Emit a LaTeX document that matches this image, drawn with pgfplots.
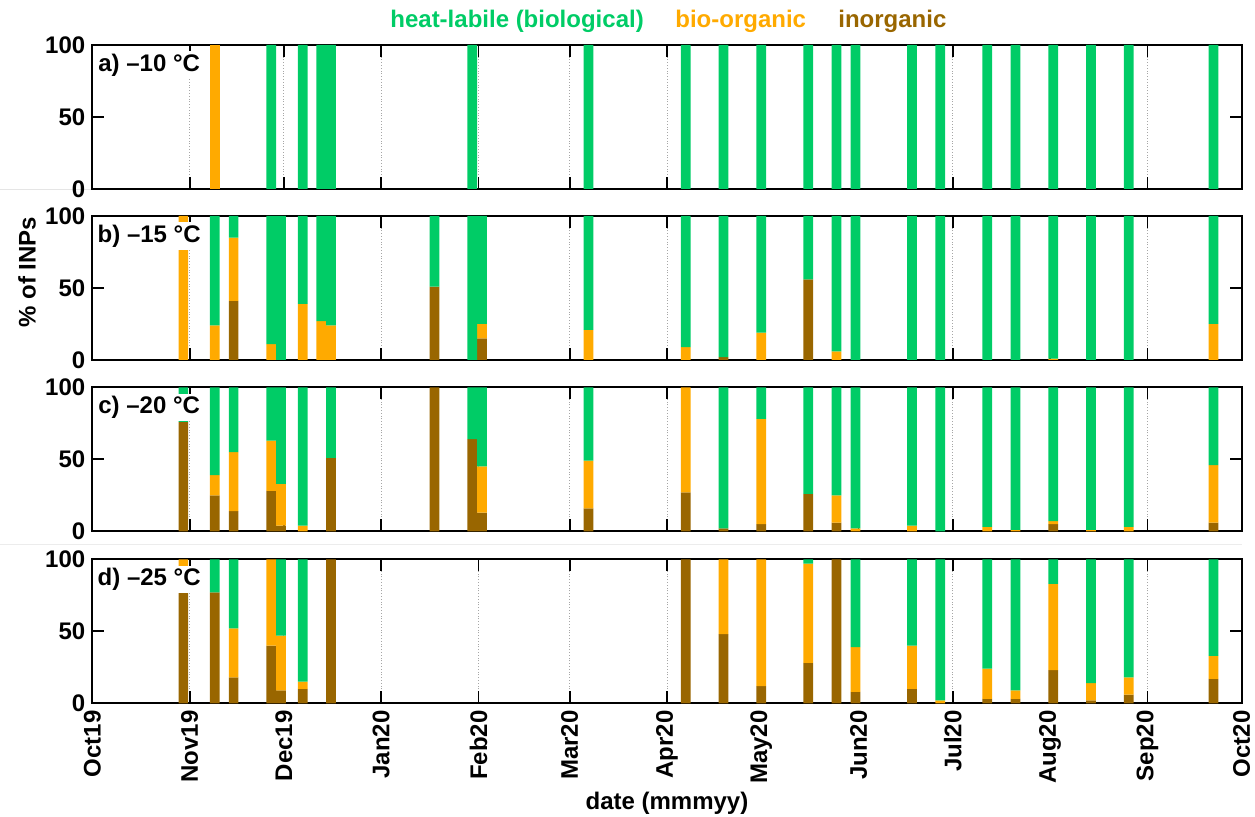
\documentclass[border=0pt]{standalone}
\usepackage{fontspec}
\setmainfont{Liberation Sans}
\usepackage{pgfplots}
\pgfplotsset{compat=1.18}
\usepackage{pgfplotstable}
\definecolor{cgreen}{RGB}{0,204,102}
\definecolor{corange}{RGB}{255,170,0}
\definecolor{cbrown}{RGB}{153,102,0}

% day numbers counted from 1 Oct 2019
\pgfplotstableread{
x inorg bio heat
39 0 100 0
57 0 0 100
67 0 0 100
72.9 0 0 100
76 0 0 100
121 0 0 100
158 0 0 100
189 0 0 100
201 0 0 100
213 0 0 100
228 0 0 100
237 0 0 100
243 0 0 100
261 0 0 100
270 0 0 100
285 0 0 100
294 0 0 100
306 0 0 100
318 0 0 100
330 0 0 100
357 0 0 100
}\tA

\pgfplotstableread{
x inorg bio heat
29 0 100 0
39 0 24 76
45 41 44 15
57 0 11 89
60.1 0 0 100
67 0 39 61
72.9 0 27 73
76 0 24 76
109 51 0 49
121 0 0 100
124.1 15 10 75
158 0 21 79
189 0 9 91
201 2 0 98
213 0 19 81
228 56 0 44
237 0 6 94
243 0 0 100
261 0 0 100
270 0 0 100
285 0 0 100
294 0 0 100
306 0 1 99
318 0 0 100
330 0 0 100
357 0 25 75
}\tB

\pgfplotstableread{
x inorg bio heat
29 76 0 24
39 25 14 61
45 14 41 45
57 28 35 37
60.1 4 29 67
67 0 4 96
76 51 0 49
109 100 0 0
121 64 0 36
124.1 13 32 55
158 16 33 51
189 27 73 0
201 2 0 98
213 5 73 22
228 26 0 74
237 6 19 75
243 0 2 98
261 0 4 96
270 0 0 100
285 0 3 97
294 0 1 99
306 5 2 93
318 0 1 99
330 0 3 97
357 6 40 54
}\tC

\pgfplotstableread{
x inorg bio heat
29 77 23 0
39 77 0 23
45 18 34 48
57 40 60 0
60.1 9 38 53
67 10 5 85
76 100 0 0
189 100 0 0
201 48 52 0
213 12 88 0
228 28 69 3
237 100 0 0
243 8 31 61
261 10 30 60
270 0 2 98
285 3 21 76
294 3 6 91
306 23 60 17
318 2 12 86
330 6 12 82
357 17 16 67
}\tD

\newcommand{\lbl}{\fontsize{12}{14}\selectfont\bfseries}

\tikzset{
  pnlbl/.style={anchor=north west, fill=white, inner sep=0pt,
    minimum width=55.5pt, minimum height=13.8pt, font=\lbl,
    xshift=0.5pt, yshift=-3pt},
}

\pgfplotsset{
  layers/mylayers/.define layer set={axis background,axis grid,axis ticks,pre main,main,axis lines,axis tick labels,axis descriptions,axis foreground}{},
  panel/.style={
    set layers=mylayers,
    anchor=north west,
    scale only axis, width=574.7pt, height=72pt,
    xmin=0, xmax=366, ymin=0, ymax=100,
    enlargelimits=false,
    xtick={0,31,61,92,123,152,183,213,244,274,305,336,366},
    ytick={0,50,100},
    xmajorgrids,
    major grid style={densely dotted, gray!70, line width=0.5pt},
    major tick length=6pt,
    tick style={black, line width=0.9pt},
    axis line style={black, line width=0.9pt},
    tick align=inside,
    yticklabel pos=left,
    xticklabels={},
    ticklabel style={font=\lbl},
    /pgf/number format/assume math mode=true,
    ybar stacked, bar width=3.1,
    reverse stacked plots=false,
  },
}

\newcommand{\bars}[1]{%
  \addplot[fill=cbrown, draw=none] table[x=x, y=inorg] {#1};
  \addplot[fill=corange, draw=none] table[x=x, y=bio] {#1};
  \addplot[fill=cgreen, draw=none] table[x=x, y=heat] {#1};
}

\begin{document}
\begin{tikzpicture}
\draw[gray!20, line width=0.5pt] (0pt,-95pt) -- (621pt,-95pt);
\draw[gray!15, line width=0.5pt] (0pt,-272.5pt) -- (621pt,-272.5pt);

\begin{axis}[panel, at={(46.15pt,-22.5pt)}]
\bars{\tA}
\node[pnlbl] at (rel axis cs:0,1) {a) –10 °C};
\end{axis}

\begin{axis}[panel, at={(46.15pt,-108pt)}]
\bars{\tB}
\node[pnlbl] at (rel axis cs:0,1) {b) –15 °C};
\end{axis}

\begin{axis}[panel, at={(46.15pt,-193.65pt)}]
\bars{\tC}
\node[pnlbl] at (rel axis cs:0,1) {c) –20 °C};
\end{axis}

\begin{axis}[panel, at={(46.15pt,-279.65pt)},
  xticklabels={Oct19,Nov19,Dec19,Jan20,Feb20,Mar20,Apr20,May20,Jun20,Jul20,Aug20,Sep20,Oct20},
  xticklabel style={rotate=90, anchor=east, font=\lbl}]
\bars{\tD}
\node[pnlbl] at (rel axis cs:0,1) {d) –25 °C};
\end{axis}

\node[anchor=base west, text=cgreen, font=\lbl, inner sep=0pt] at (195pt,-14pt) {heat-labile (biological)};
\node[anchor=base west, text=corange, font=\lbl, inner sep=0pt] at (337.5pt,-14pt) {bio-organic};
\node[anchor=base west, text=cbrown, font=\lbl, inner sep=0pt] at (419pt,-14pt) {inorganic};

\node[rotate=90, font=\lbl] at (13.5pt,-136pt) {\% of INPs};
\node[font=\lbl] at (333.5pt,-401.5pt) {date (mmmyy)};

\pgfresetboundingbox
\path[use as bounding box] (0pt,0pt) rectangle (627.5pt,-408.5pt);
\end{tikzpicture}
\end{document}
